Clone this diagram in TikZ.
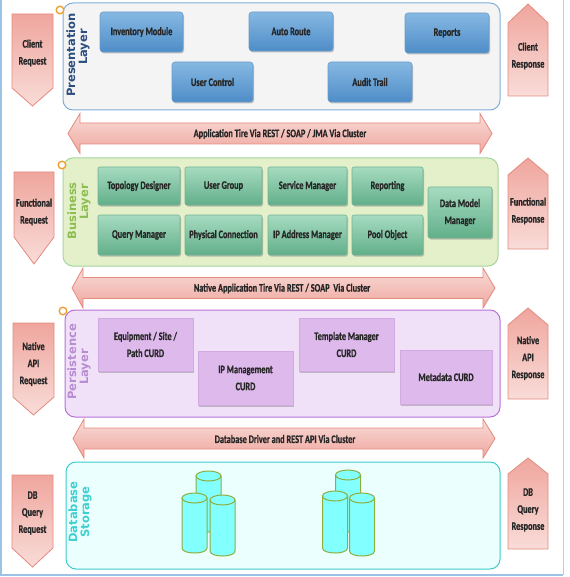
\documentclass[tikz,border=0pt]{standalone}
\usepackage{fontspec}
\newfontfamily\lblfont{Carlito}[FakeStretch=0.72, BoldFont={Carlito Bold}, BoldFeatures={FakeStretch=0.72, FakeBold=0.8}]
\newfontfamily\layerfont{DejaVu Sans}
\usetikzlibrary{shadows}
\definecolor{bluetop}{HTML}{86B8E2}
\definecolor{bluebot}{HTML}{4E8DC8}
\definecolor{blueline}{HTML}{6A9CCC}
\definecolor{greentop}{HTML}{A6DBC0}
\definecolor{greenbot}{HTML}{62AF8A}
\definecolor{greenline}{HTML}{74B394}
\definecolor{purpfill}{HTML}{DDB9EC}
\definecolor{purpline}{HTML}{D2AAE2}
\definecolor{presfill}{HTML}{F4F4F4}
\definecolor{presline}{HTML}{7FAEDC}
\definecolor{busfill}{HTML}{E3F0C9}
\definecolor{busline}{HTML}{A6D69E}
\definecolor{persfill}{HTML}{F1E1F8}
\definecolor{persline}{HTML}{B870D9}
\definecolor{dbfill}{HTML}{ECFFFF}
\definecolor{dbline}{HTML}{3ECBCB}
\definecolor{arrline}{HTML}{E58A7E}
\definecolor{arrlight}{HTML}{F9DCD8}
\definecolor{arrdark}{HTML}{EFA69E}
\definecolor{cylfill}{HTML}{82FFFF}
\definecolor{cylline}{HTML}{8DAE3E}
\definecolor{presfont}{HTML}{2C4D7F}
\definecolor{busfont}{HTML}{8DBD52}
\definecolor{persfont}{HTML}{B88CD2}
\definecolor{dbfont}{HTML}{3ED0D0}
\definecolor{ringcol}{HTML}{F0A030}
\definecolor{framecol}{HTML}{9CC3E6}
\tikzset{
  boxtext/.style={font=\lblfont\bfseries\fontsize{11.5}{17}\selectfont, text=black!85, align=center, inner sep=1pt},
  boxshadow/.style={drop shadow={shadow xshift=1pt, shadow yshift=-1.5pt, opacity=0.45}},
  bluebox/.style={boxtext, boxshadow, draw=blueline, line width=0.6pt, rounded corners=3pt, top color=bluetop, bottom color=bluebot},
  greenbox/.style={boxtext, boxshadow, draw=greenline, line width=0.6pt, rounded corners=2pt, top color=greentop, bottom color=greenbot},
  purpbox/.style={boxtext, boxshadow, draw=purpline, line width=0.6pt, fill=purpfill},
  panel/.style={rounded corners=10pt, line width=1pt},
  layerlbl/.style={font=\layerfont\bfseries\fontsize{11.5}{12}\selectfont, rotate=90, align=center, inner sep=0pt},
  bigarrow/.style={draw=arrline, line width=0.8pt, top color=arrlight, bottom color=arrdark},
  sidearrow/.style={draw=arrline, line width=0.8pt, top color=arrdark, bottom color=arrlight},
  ring/.style={draw=ringcol, line width=1.4pt, fill=white},
  cylbody/.style={draw=cylline, line width=1pt, fill=cylfill},
  dbcyl/.pic={
    \path[cylbody] (-12.5,0) -- (-12.5,\pgfkeysvalueof{/tikz/cylh}) .. controls (-12.5,\pgfkeysvalueof{/tikz/cylh}+6.67) and (12.5,\pgfkeysvalueof{/tikz/cylh}+6.67) .. (12.5,\pgfkeysvalueof{/tikz/cylh}) -- (12.5,0) -- cycle;
    \path[cylbody] (0,0) ellipse [x radius=12.5pt, y radius=5pt];
  },
  cylh/.initial=50
}
\begin{document}
\begin{tikzpicture}[x=1pt, y=-1pt]
\useasboundingbox (0,0) rectangle (569,577);
% outer frame
\draw[framecol, line width=1.2pt] (1,0) -- (1,575) -- (563,575);
\draw[black!20, line width=0.8pt] (563,0) -- (563,575);

% ---------- panels ----------
\draw[panel, draw=presline, fill=presfill] (63,3) rectangle (500,110);
\draw[panel, draw=busline, fill=busfill] (63,158) rectangle (498,266);
\draw[panel, draw=persline, fill=persfill] (65,310) rectangle (500,417);
\draw[panel, draw=dbline, fill=dbfill] (66,462) rectangle (500,569);

\draw[ring] (60,10) circle [radius=3.8pt];
\draw[ring] (62,165) circle [radius=3.8pt];
\draw[ring] (63,311) circle [radius=3.8pt];

\node[layerlbl, text=presfont] (lpres) at (78,55) {Presentation\\\hspace*{16pt}Layer};
\node[layerlbl, text=busfont] (lbus) at (79,211) {Business\\\hspace*{18pt}Layer};
\node[layerlbl, text=persfont] (lpers) at (79,362) {Persistence\\Layer\hspace*{10pt}};
\node[layerlbl, text=dbfont] (ldb) at (80,512) {Database\\Storage};

% ---------- presentation boxes ----------
\node[bluebox, minimum width=83pt, minimum height=40pt] (inv) at (141.5,32) {Inventory Module};
\node[bluebox, minimum width=84pt, minimum height=39pt] (auto) at (291,31.5) {Auto Route};
\node[bluebox, minimum width=84pt, minimum height=40pt] (rep) at (447,33) {Reports};
\node[bluebox, minimum width=81pt, minimum height=40pt] (uc) at (212.5,82) {User Control};
\node[bluebox, minimum width=84pt, minimum height=40pt] (audit) at (370,82) {Audit Trail};

% ---------- business boxes ----------
\node[greenbox, minimum width=82pt, minimum height=38pt] (topo) at (139,186) {Topology Designer};
\node[greenbox, minimum width=77pt, minimum height=38pt] (ug) at (223.5,186) {User Group};
\node[greenbox, minimum width=79pt, minimum height=38pt] (sm) at (307.5,186) {Service Manager};
\node[greenbox, minimum width=71pt, minimum height=38pt] (repo) at (387.5,186) {Reporting};
\node[greenbox, minimum width=82pt, minimum height=40pt] (qm) at (139,235) {Query Manager};
\node[greenbox, minimum width=77pt, minimum height=40pt] (pc) at (223.5,235) {Physical Connection};
\node[greenbox, minimum width=79pt, minimum height=40pt] (ipam) at (307.5,235) {IP Address Manager};
\node[greenbox, minimum width=71pt, minimum height=40pt] (pool) at (387.5,235) {Pool Object};
\node[greenbox, minimum width=64pt, minimum height=51pt] (dmm) at (460,212.5) {Data Model\\Manager};

% ---------- persistence boxes ----------
\node[purpbox, minimum width=95pt, minimum height=53pt] (equip) at (145.5,344.5) {Equipment / Site /\\Path CURD};
\node[purpbox, minimum width=95pt, minimum height=54pt] (ipm) at (245.5,378) {IP Management\\CURD};
\node[purpbox, minimum width=95pt, minimum height=53pt] (tmpl) at (346.5,344.5) {Template Manager\\CURD};
\node[purpbox, minimum width=92pt, minimum height=54pt] (meta) at (446,377) {Metadata CURD};

% ---------- database cylinders ----------
\pic[cylh=51] at (208.5,476) {dbcyl};
\pic[cylh=50] at (194.5,498) {dbcyl};
\pic[cylh=51] at (222.5,500) {dbcyl};
\pic[cylh=52] at (348,475) {dbcyl};
\pic[cylh=52] at (335,496) {dbcyl};
\pic[cylh=53] at (362,498) {dbcyl};

% ---------- horizontal double arrows ----------
\path[bigarrow] (68,133.5) -- (80,113.5) -- (80,123) -- (480,123) -- (480,113.5) -- (492,133.5) -- (480,153.5) -- (480,144) -- (80,144) -- (80,153.5) -- cycle;
\node[boxtext] (a1) at (280,134) {Application Tire Via REST / SOAP / JMA Via Cluster};
\path[bigarrow] (72,288) -- (83,268) -- (83,277.5) -- (483,277.5) -- (483,268) -- (495,288) -- (483,308) -- (483,298.5) -- (83,298.5) -- (83,308) -- cycle;
\node[boxtext] (a2) at (282,288.5) {Native Application Tire Via REST / SOAP\ \ Via Cluster};
\path[bigarrow] (73,438.5) -- (84,419) -- (84,428) -- (483,428) -- (483,419) -- (495,438.5) -- (483,458) -- (483,449) -- (84,449) -- (84,458) -- cycle;
\node[boxtext] (a3) at (285,439) {Database Driver and REST API Via Cluster};

% ---------- side arrows (requests, pointing down) ----------
\path[sidearrow] (12,14) -- (53,14) -- (53,88) -- (32.5,106) -- (12,88) -- cycle;
\node[boxtext] (creq) at (32.5,53) {Client\\Request};
\path[sidearrow] (14,172) -- (54,172) -- (54,237) -- (34,264) -- (14,237) -- cycle;
\node[boxtext] (freq) at (34,212) {Functional\\Request};
\path[sidearrow] (13,323) -- (54,323) -- (54,397) -- (33.5,415) -- (13,397) -- cycle;
\node[boxtext] (nreq) at (33.5,364) {Native\\API\\Request};
\path[sidearrow] (12,475) -- (53,475) -- (53,548) -- (32.5,567) -- (12,548) -- cycle;
\node[boxtext] (dreq) at (32.5,513) {DB\\Query\\Request};

% ---------- side arrows (responses, pointing up) ----------
\path[sidearrow] (528,4) -- (548,23) -- (548,96) -- (508,96) -- (508,23) -- cycle;
\node[boxtext] (cres) at (528,56) {Client\\Response};
\path[sidearrow] (528,158) -- (548,175) -- (548,249) -- (508,249) -- (508,175) -- cycle;
\node[boxtext] (fres) at (528,211) {Functional\\Response};
\path[sidearrow] (528,308) -- (548,325) -- (548,399) -- (508,399) -- (508,325) -- cycle;
\node[boxtext] (nres) at (528,358) {Native\\API\\Response};
\path[sidearrow] (528,458) -- (548,474) -- (548,549) -- (508,549) -- (508,474) -- cycle;
\node[boxtext] (dres) at (528,510) {DB\\Query\\Response};
\end{tikzpicture}
\end{document}
